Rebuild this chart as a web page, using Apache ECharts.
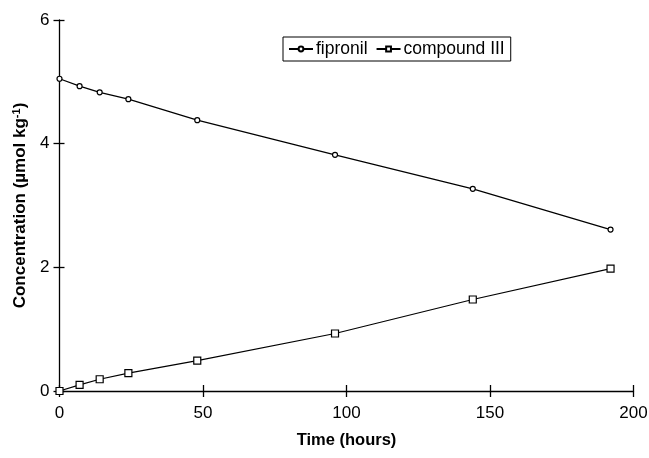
<!DOCTYPE html>
<html>
<head>
<meta charset="utf-8">
<script src="https://cdn.jsdelivr.net/npm/echarts@6/dist/echarts.min.js"></script>
<style>
  html, body { margin: 0; padding: 0; background: #fff; }
  #chart { width: 649px; height: 458px; }
</style>
</head>
<body>
<div id="chart"></div>
<script>
// sampling times (hours)
var times = [0, 7, 14, 24, 48, 96, 144, 192];
// concentrations (umol/kg)
var fipronil = [5.05, 4.93, 4.83, 4.72, 4.38, 3.82, 3.27, 2.61];
var compound3 = [0, 0.1, 0.19, 0.29, 0.49, 0.93, 1.48, 1.98];

function pairs(xs, ys) {
  var out = [];
  for (var i = 0; i < xs.length; i++) out.push([xs[i], ys[i]]);
  return out;
}

var font = "'Liberation Sans', Arial, sans-serif";
var myChart = echarts.init(document.getElementById("chart"));

var option = {
  backgroundColor: "#fff",
  animation: false,
  grid: { left: 59.5, right: 15.5, top: 20, bottom: 67, containLabel: false, outerBoundsMode: "none" },
  legend: {
    left: 283,
    top: 37,
    itemGap: 8,
    itemWidth: 24,
    itemHeight: 6,
    padding: [3, 6, 3, 5],
    borderColor: "#000",
    borderWidth: 1,
    borderRadius: 0,
    textStyle: { fontFamily: font, fontSize: 17.5, color: "#000", padding: [0, 0, 0, -2] },
    data: ["fipronil", "compound III"]
  },
  xAxis: [
    {
      type: "value",
      min: 0, max: 200, interval: 50,
      name: "Time (hours)",
      nameLocation: "middle",
      nameGap: 41,
      nameTextStyle: { fontFamily: font, fontSize: 16.5, fontWeight: "bold", color: "#000" },
      axisLine: { lineStyle: { color: "#000", width: 1.3 } },
      axisTick: { inside: true, length: 6, lineStyle: { color: "#000", width: 1.3 } },
      axisLabel: { fontFamily: font, fontSize: 17, color: "#000", margin: 14 },
      splitLine: { show: false }
    },
    {
      type: "value",
      position: "bottom",
      min: 0, max: 200, interval: 50,
      axisLine: { show: false },
      axisTick: { show: true, length: 6, lineStyle: { color: "#000", width: 1.3 } },
      axisLabel: { show: false },
      splitLine: { show: false }
    }
  ],
  yAxis: [
    {
      type: "value",
      min: 0, max: 6, interval: 2,
      name: "{t|Concentration (µmol kg}{s|-1}{t|)}",
      nameLocation: "middle",
      nameGap: 29,
      nameTextStyle: {
        rich: {
          t: { fontFamily: font, fontSize: 17, fontWeight: "bold", color: "#000" },
          s: { fontFamily: font, fontSize: 11, fontWeight: "bold", color: "#000", verticalAlign: "top", padding: [0, 0, 8, 0] }
        }
      },
      axisLine: { show: true, lineStyle: { color: "#000", width: 1.3 } },
      axisTick: { show: true, length: 6, lineStyle: { color: "#000", width: 1.3 } },
      axisLabel: { fontFamily: font, fontSize: 17, color: "#000", margin: 10 },
      splitLine: { show: false }
    },
    {
      type: "value",
      position: "left",
      min: 0, max: 6, interval: 2,
      axisLine: { show: false },
      axisTick: { show: true, inside: true, length: 5, lineStyle: { color: "#000", width: 1.3 } },
      axisLabel: { show: false },
      splitLine: { show: false }
    }
  ],
  series: [
    {
      name: "fipronil",
      type: "line",
      data: pairs(times, fipronil),
      symbol: "circle",
      symbolSize: 5,
      lineStyle: { color: "#000", width: 1.2 },
      itemStyle: { color: "#fff", borderColor: "#000", borderWidth: 1.2 }
    },
    {
      name: "compound III",
      type: "line",
      data: pairs(times, compound3),
      symbol: "rect",
      symbolSize: 7,
      lineStyle: { color: "#000", width: 1.2 },
      itemStyle: { color: "#fff", borderColor: "#000", borderWidth: 1.2 }
    }
  ]
};

myChart.setOption(option);
</script>
</body>
</html>
